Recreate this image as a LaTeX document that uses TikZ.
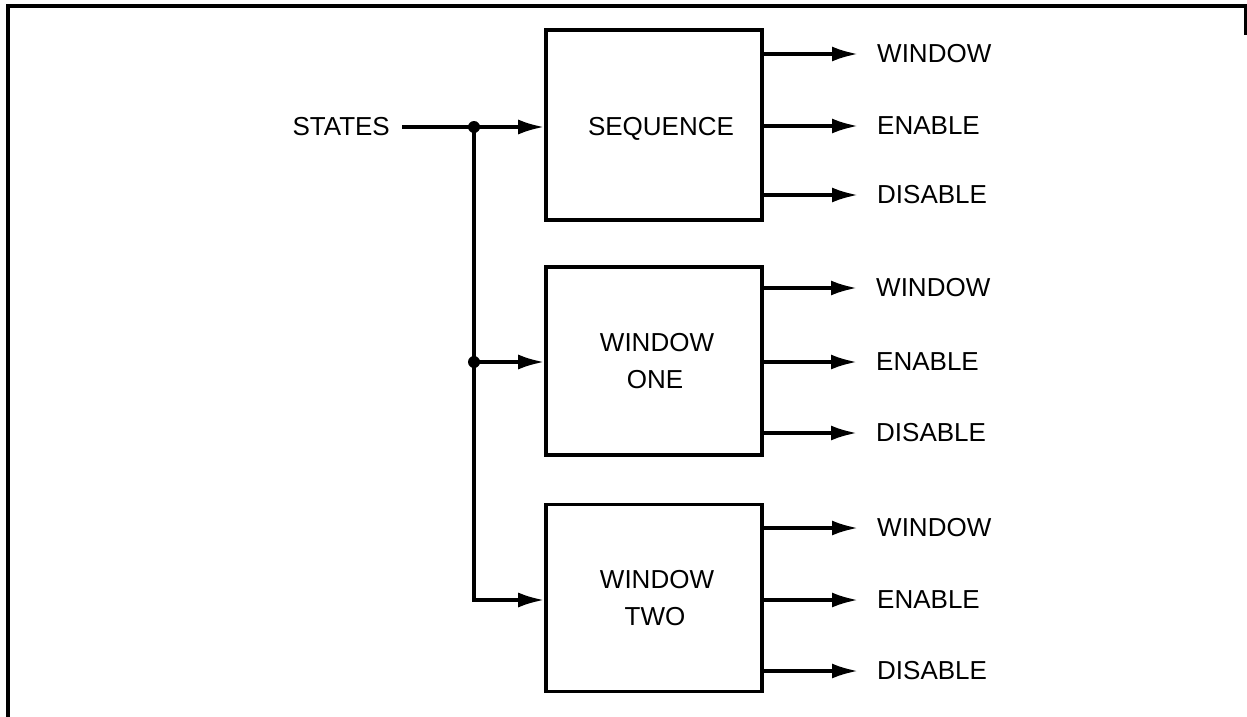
\documentclass[tikz,border=0pt]{standalone}
\usepackage{fontspec}
\setmainfont{Liberation Sans}
\usetikzlibrary{arrows.meta}
\begin{document}
\begin{tikzpicture}[x=1pt,y=-1pt,
  wire/.style={line width=3.4pt},
  arr/.style={wire,-{Latex[length=26pt,width=15pt]}},
  blockbox/.style={draw,line width=3.6pt,minimum width=216pt,inner sep=0pt,align=center,font=\fontsize{26}{37}\selectfont},
  outlabel/.style={anchor=west,inner ysep=0pt,inner xsep=19pt,font=\fontsize{26}{30}\selectfont},
  dot/.style={circle,fill=black,inner sep=0pt,minimum size=12pt}]
\useasboundingbox (0,0) rectangle (1247,717);
% frame
\draw[line width=4.5pt] (8,717) -- (8,6) -- (1246,6) -- (1246,35);
% blocks
\node[blockbox,minimum height=190pt] (b1) at (654,125) {\raisebox{-10pt}[0pt][0pt]{\hspace{14pt}SEQUENCE}};
\node[blockbox,minimum height=188pt] (b2) at (654,361) {\hspace{6pt}WINDOW\\\hspace{2pt}ONE};
\node[blockbox,minimum height=187pt] (b3) at (654,598) {\hspace{6pt}WINDOW\\\hspace{2pt}TWO};
% input
\node[anchor=east,inner ysep=0pt,inner xsep=12pt,font=\fontsize{26}{30}\selectfont] (st) at (402,127) {STATES};
\coordinate (j1) at (474,127);
\coordinate (j2) at (474,362);
\coordinate (j3) at (474,600);
\draw[wire] (st.east) -- (j1);
\draw[arr] (j1) -- (j1 -| b1.west);
\draw[arr] (j2) -- (j2 -| b2.west);
\draw[arr] (j1) -- (j3) -- (j3 -| b3.west);
\node[dot] (d1) at (j1) {};
\node[dot] (d2) at (j2) {};
% outputs
\node[outlabel] (w1) at (858,54) {WINDOW};
\node[outlabel] (e1) at (858,126) {ENABLE};
\node[outlabel] (s1) at (858,195) {DISABLE};
\node[outlabel] (w2) at (857,288) {WINDOW};
\node[outlabel] (e2) at (857,362) {ENABLE};
\node[outlabel] (s2) at (857,433) {DISABLE};
\node[outlabel] (w3) at (858,528) {WINDOW};
\node[outlabel] (e3) at (858,600) {ENABLE};
\node[outlabel] (s3) at (858,671) {DISABLE};
\foreach \l in {w1,e1,s1} \draw[arr] (\l.west -| b1.east) -- (\l.west);
\foreach \l in {w2,e2,s2} \draw[arr] (\l.west -| b2.east) -- (\l.west);
\foreach \l in {w3,e3,s3} \draw[arr] (\l.west -| b3.east) -- (\l.west);
\end{tikzpicture}
\end{document}
